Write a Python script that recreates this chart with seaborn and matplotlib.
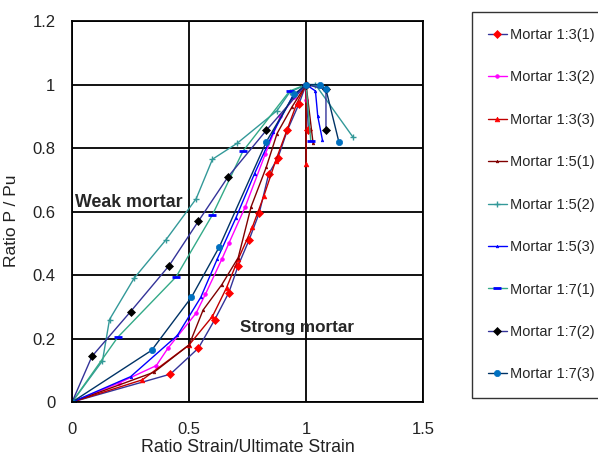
import matplotlib
matplotlib.use("Agg")
import matplotlib.pyplot as plt
import seaborn as sns
import pandas as pd

# ---- data ----
labels = ["Mortar 1:3(1)", "Mortar 1:3(2)", "Mortar 1:3(3)", "Mortar 1:5(1)", "Mortar 1:5(2)",
          "Mortar 1:5(3)", "Mortar 1:7(1)", "Mortar 1:7(2)", "Mortar 1:7(3)"]

m31_x = [0, 0.42, 0.54, 0.61, 0.67, 0.71, 0.756, 0.80, 0.84, 0.88, 0.92, 0.97, 1.0, 1.01]
m31_y = [0, 0.088, 0.17, 0.26, 0.345, 0.43, 0.51, 0.596, 0.718, 0.77, 0.856, 0.94, 1.0, 0.856]

m32_x = [0, 0.20, 0.36, 0.41, 0.53, 0.57, 0.64, 0.67, 0.74, 0.825, 0.89, 0.95, 1.0, 1.0]
m32_y = [0, 0.06, 0.115, 0.17, 0.28, 0.34, 0.45, 0.50, 0.615, 0.78, 0.90, 0.96, 1.0, 0.95]

m33_x = [0, 0.30, 0.50, 0.60, 0.66, 0.71, 0.77, 0.82, 0.87, 0.92, 0.96, 1.0, 1.0]
m33_y = [0, 0.07, 0.18, 0.27, 0.36, 0.45, 0.55, 0.65, 0.76, 0.86, 0.94, 1.0, 0.75]

m51_x = [0, 0.35, 0.50, 0.56, 0.64, 0.71, 0.765, 0.83, 0.876, 0.94, 1.0, 1.03]
m51_y = [0, 0.094, 0.18, 0.29, 0.37, 0.455, 0.615, 0.74, 0.846, 0.93, 1.0, 0.815]

m52_x = [0, 0.13, 0.16, 0.265, 0.40, 0.53, 0.60, 0.705, 0.876, 0.93, 1.0, 1.04, 1.2]
m52_y = [0, 0.13, 0.26, 0.39, 0.51, 0.64, 0.765, 0.815, 0.918, 0.976, 1.0, 1.0, 0.835]

m53_x = [0, 0.25, 0.45, 0.55, 0.62, 0.70, 0.78, 0.86, 0.94, 1.0, 1.04, 1.05, 1.07]
m53_y = [0, 0.08, 0.21, 0.33, 0.45, 0.58, 0.72, 0.85, 0.96, 1.0, 0.98, 0.90, 0.825]

m71_x = [0, 0.195, 0.445, 0.60, 0.73, 0.93, 1.0, 1.02]
m71_y = [0, 0.204, 0.395, 0.59, 0.79, 0.98, 1.0, 0.823]

m72_x = [0, 0.085, 0.25, 0.415, 0.54, 0.667, 0.83, 1.0, 1.085, 1.085]
m72_y = [0, 0.144, 0.285, 0.43, 0.57, 0.71, 0.856, 1.0, 0.985, 0.856]

m73_x = [0, 0.34, 0.51, 0.63, 0.83, 0.95, 1.0, 1.06, 1.085, 1.14]
m73_y = [0, 0.163, 0.33, 0.49, 0.82, 0.97, 1.0, 1.0, 0.985, 0.82]

x_ticks = [0, 0.5, 1, 1.5]
x_tick_labels = ["0", "0.5", "1", "1.5"]
y_ticks = [0, 0.2, 0.4, 0.6, 0.8, 1.0, 1.2]
y_tick_labels = ["0", "0.2", "0.4", "0.6", "0.8", "1", "1.2"]

series_x = [m31_x, m32_x, m33_x, m51_x, m52_x, m53_x, m71_x, m72_x, m73_x]
series_y = [m31_y, m32_y, m33_y, m51_y, m52_y, m53_y, m71_y, m72_y, m73_y]

# styles: line colour, marker, marker colour, marker size, marker edge width
styles = [
    ("#333399", "D", "#FF0000", 5.5, 0.5),
    ("#FF00FF", "o", "#FF00FF", 3.5, 0.5),
    ("#C00000", "^", "#FF0000", 4.5, 0.5),
    ("#800000", "^", "#800000", 2.5, 0.5),
    ("#339999", "+", "#339999", 6.5, 1.0),
    ("#0000FF", "^", "#0000FF", 2.5, 0.5),
    ("#33AA88", "_", "#0000FF", 8, 2.0),
    ("#333399", "D", "#000000", 5, 0.5),
    ("#003366", "o", "#0070C0", 6, 0.5),
]

sns.set_style("white")
plt.rcParams["font.family"] = ["Liberation Sans", "DejaVu Sans"]

fig = plt.figure(figsize=(5.98, 4.59), dpi=100)
ax = fig.add_axes([0.1205, 0.124, 0.587, 0.830])

for lab, xs, ys, (lc, mk, mc, ms, mew) in zip(labels, series_x, series_y, styles):
    df = pd.DataFrame({"x": xs, "y": ys})
    sns.lineplot(data=df, x="x", y="y", sort=False, estimator=None, ax=ax,
                 color=lc, linewidth=1.0, marker=mk, markersize=ms,
                 markerfacecolor=mc, markeredgecolor=mc, markeredgewidth=mew,
                 label=lab, legend=False)

ax.set_xlim(0, 1.5)
ax.set_ylim(0, 1.2)
ax.set_xticks(x_ticks)
ax.set_xticklabels(x_tick_labels)
ax.set_yticks(y_ticks)
ax.set_yticklabels(y_tick_labels)
ax.grid(True, color="black", linewidth=1.3)
ax.set_axisbelow(True)
for s in ax.spines.values():
    s.set_color("black")
    s.set_linewidth(1.3)
ax.tick_params(axis="both", direction="out", length=4, width=1.2, color="black",
               labelsize=12, labelcolor="#222222", pad=8)
ax.tick_params(axis="x", pad=10)
ax.set_xlabel("Ratio Strain/Ultimate Strain", fontsize=12.8, color="#222222", labelpad=2)
ax.set_ylabel("Ratio P / Pu", fontsize=12.5, color="#222222")
ax.yaxis.set_label_coords(-0.151, 0.476)

ax.text(0.013, 0.63, "Weak mortar", fontsize=12.8, fontweight="bold", va="center", ha="left")
ax.text(0.718, 0.235, "Strong mortar", fontsize=12.3, fontweight="bold", va="center", ha="left")

handles, labs = ax.get_legend_handles_labels()
for h in handles:
    h.set_markersize(h.get_markersize() * 0.75)
leg = fig.legend(handles, labs, loc="upper left", bbox_to_anchor=(0.789, 0.974),
                 frameon=True, fancybox=False, edgecolor="black", fontsize=10.5,
                 handlelength=1.3, handletextpad=0.2, labelspacing=1.95,
                 borderpad=1.1, borderaxespad=0)
leg.get_frame().set_linewidth(1.0)

fig.savefig("out.png", dpi=100)
